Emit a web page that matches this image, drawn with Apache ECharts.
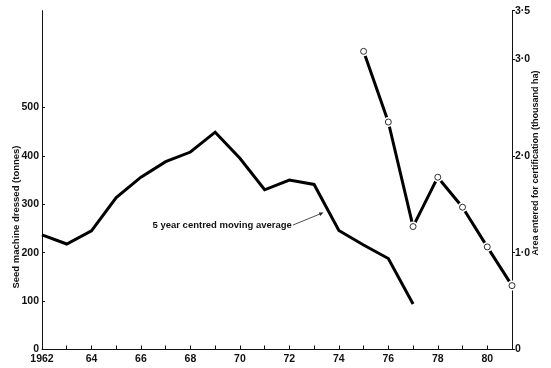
<!DOCTYPE html>
<html>
<head>
<meta charset="utf-8">
<script src="https://cdn.jsdelivr.net/npm/echarts@6/dist/echarts.min.js"></script>
<style>
  html, body { margin: 0; padding: 0; background: #fff; }
  #chart { width: 551px; height: 368px; }
</style>
</head>
<body>
<div id="chart"></div>
<script>
// Seed machine dressed (tonnes), 5 year centred moving average
const avgYears = [1962, 1963, 1964, 1965, 1966, 1967, 1968, 1969, 1970, 1971, 1972, 1973, 1974, 1975, 1976, 1977];
const avgTonnes = [237, 218, 245, 314, 356, 388, 408, 449, 395, 330, 350, 341, 246, 216, 188, 94];

// Area entered for certification (thousand ha)
const areaYears = [1975, 1976, 1977, 1978, 1979, 1980, 1981];
const areaThousandHa = [3.08, 2.35, 1.27, 1.78, 1.47, 1.06, 0.66];

// Axis tick labels
const leftTicks = [0, 100, 200, 300, 400, 500];
const rightTicks = [0, 1, 2, 3, 3.5];
const rightTickLabels = ['0', '1\u00b70', '2\u00b70', '3\u00b70', '3\u00b75'];

const FONT = 'Liberation Sans';

const chart = echarts.init(document.getElementById('chart'), null, { renderer: 'canvas' });

const pairs = (xs, ys) => xs.map((x, i) => [x, ys[i]]);

chart.setOption({
  animation: false,
  backgroundColor: '#fff',
  grid: { left: 42, right: 39, top: 10.7, bottom: 18.5, containLabel: false },
  xAxis: {
    type: 'value',
    min: 1962,
    max: 1981,
    interval: 1,
    axisLine: { show: true, lineStyle: { color: '#111', width: 1 } },
    axisTick: { show: true, inside: true, length: 4, lineStyle: { color: '#111' } },
    splitLine: { show: false },
    axisLabel: {
      margin: 4,
      color: '#111',
      fontFamily: FONT,
      fontSize: 10.5,
      fontWeight: 'bold',
      formatter: v => (v % 2 !== 0 ? '' : (v === 1962 ? '1962' : String(v).slice(2)))
    }
  },
  yAxis: [
    {
      type: 'value',
      min: 0,
      max: 700,
      interval: 100,
      position: 'left',
      axisLine: { show: true, lineStyle: { color: '#111', width: 1 } },
      axisTick: { show: true, inside: true, length: 3, customValues: leftTicks, lineStyle: { color: '#111' } },
      splitLine: { show: false },
      axisLabel: {
        margin: 3,
        color: '#111',
        fontFamily: FONT,
        fontSize: 10.5,
        fontWeight: 'bold',
        customValues: leftTicks
      }
    },
    {
      type: 'value',
      min: 0,
      max: 3.5,
      interval: 0.5,
      position: 'right',
      axisLine: { show: true, lineStyle: { color: '#111', width: 1 } },
      axisTick: { show: true, inside: false, length: 3, customValues: rightTicks, lineStyle: { color: '#111' } },
      splitLine: { show: false },
      axisLabel: {
        margin: 3,
        color: '#111',
        fontFamily: FONT,
        fontSize: 10.5,
        fontWeight: 'bold',
        customValues: rightTicks,
        formatter: v => rightTickLabels[rightTicks.indexOf(v)]
      }
    }
  ],
  series: [
    {
      name: 'Seed machine dressed',
      type: 'line',
      xAxisIndex: 0,
      yAxisIndex: 0,
      data: pairs(avgYears, avgTonnes),
      showSymbol: false,
      lineStyle: { color: '#000', width: 3, join: 'miter' }
    },
    {
      // line with white pads around each point, leaving small gaps at the circles
      name: 'Area entered',
      type: 'line',
      xAxisIndex: 0,
      yAxisIndex: 1,
      data: pairs(areaYears, areaThousandHa),
      symbol: 'circle',
      symbolSize: 10,
      itemStyle: { color: '#fff', borderWidth: 0 },
      lineStyle: { color: '#000', width: 3 },
      z: 3
    },
    {
      name: 'Area entered points',
      type: 'scatter',
      xAxisIndex: 0,
      yAxisIndex: 1,
      data: pairs(areaYears, areaThousandHa),
      symbol: 'circle',
      symbolSize: 6,
      itemStyle: { color: '#fff', borderColor: '#000', borderWidth: 1 },
      z: 4
    }
  ],
  graphic: [
    {
      type: 'text',
      x: 16,
      y: 217,
      rotation: Math.PI / 2,
      style: {
        text: 'Seed machine dressed (tonnes)',
        fill: '#111',
        font: 'bold 9.5px "Liberation Sans"',
        align: 'center',
        verticalAlign: 'middle'
      }
    },
    {
      type: 'text',
      x: 536,
      y: 163,
      rotation: Math.PI / 2,
      style: {
        text: 'Area entered for certification (thousand ha)',
        fill: '#111',
        font: 'bold 9px "Liberation Sans"',
        align: 'center',
        verticalAlign: 'middle'
      }
    },
    {
      type: 'text',
      x: 152.5,
      y: 225,
      style: {
        text: '5 year centred moving average',
        fill: '#111',
        font: 'bold 9.5px "Liberation Sans"',
        align: 'left',
        verticalAlign: 'middle'
      }
    },
    {
      type: 'line',
      shape: { x1: 293, y1: 225, x2: 320, y2: 214 },
      style: { stroke: '#222', lineWidth: 0.8 }
    },
    {
      type: 'polygon',
      shape: { points: [[323.5, 212.5], [318.8, 212.6], [320.2, 216.0]] },
      style: { fill: '#222' }
    }
  ]
});
</script>
</body>
</html>
